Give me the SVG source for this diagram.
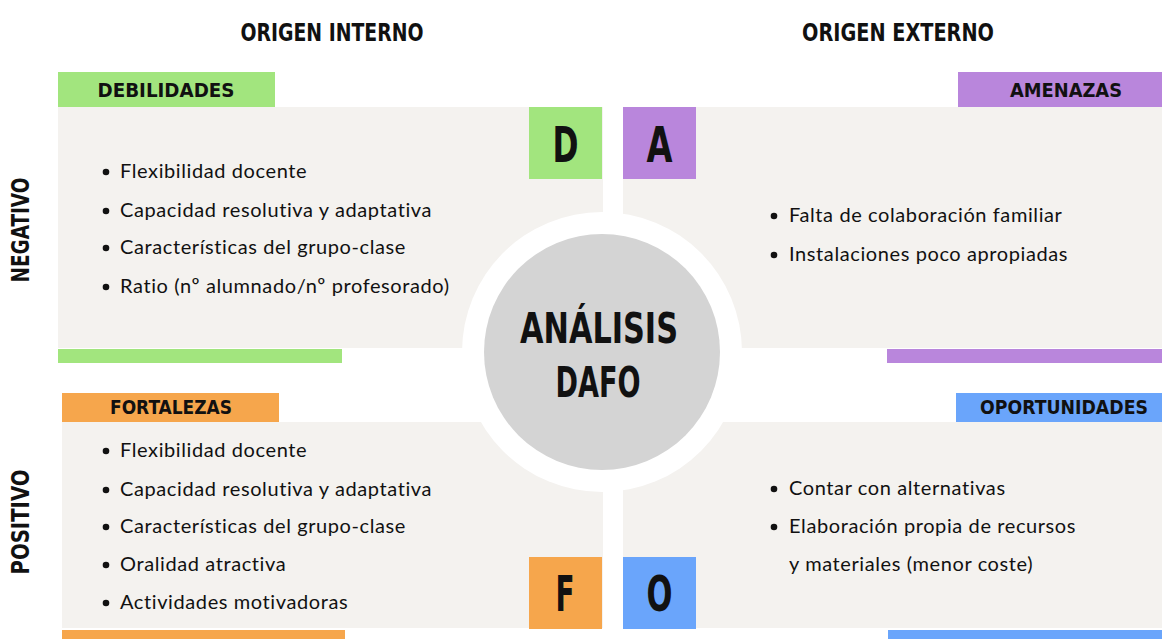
<svg xmlns="http://www.w3.org/2000/svg" width="1162" height="639" viewBox="0 0 1162 639">
<style>
.bg{fill:#f4f2ef}
.g{fill:#a2e57e}.p{fill:#b986dc}.o{fill:#f6a64c}.b{fill:#6aa5fb}
.h1{font-family:"DejaVu Sans Condensed","DejaVu Sans",sans-serif;font-weight:bold;font-size:24px;fill:#111;text-anchor:middle}
.h2{font-family:"DejaVu Sans Condensed","DejaVu Sans",sans-serif;font-weight:bold;font-size:20px;fill:#111;text-anchor:middle}
.big{font-family:"DejaVu Sans Condensed","DejaVu Sans",sans-serif;font-weight:bold;font-size:50px;fill:#111;text-anchor:middle}
.t{font-family:Lato,"Liberation Sans",sans-serif;font-size:20px;letter-spacing:0.6px;fill:#111}
.dot{fill:#111}
</style>
<rect width="1162" height="639" fill="#ffffff"/>
<g id="titles">
<text class="h1" x="332" y="41" textLength="183" lengthAdjust="spacingAndGlyphs">ORIGEN INTERNO</text>
<text class="h1" x="898" y="41" textLength="192" lengthAdjust="spacingAndGlyphs">ORIGEN EXTERNO</text>
<text class="h1" transform="translate(29,230) rotate(-90)" textLength="105" lengthAdjust="spacingAndGlyphs">NEGATIVO</text>
<text class="h1" transform="translate(29,522) rotate(-90)" textLength="105" lengthAdjust="spacingAndGlyphs">POSITIVO</text>
</g>
<g id="debilidades">
<rect class="bg" x="58" y="107" width="545" height="241"/>
<rect class="g" x="58" y="72" width="217" height="35"/>
<text class="h2" x="166" y="97" textLength="137" lengthAdjust="spacingAndGlyphs">DEBILIDADES</text>
<rect class="g" x="58" y="349" width="284" height="14"/>
<rect class="g" x="529" y="107" width="73" height="72"/>
<text class="big" x="565.5" y="162" textLength="26" lengthAdjust="spacingAndGlyphs">D</text>
<circle class="dot" cx="106" cy="172" r="3.3"/>
<text class="t" x="120" y="178">Flexibilidad docente</text>
<circle class="dot" cx="106" cy="211" r="3.3"/>
<text class="t" x="120" y="217">Capacidad resolutiva y adaptativa</text>
<circle class="dot" cx="106" cy="248" r="3.3"/>
<text class="t" x="120" y="254">Características del grupo-clase</text>
<circle class="dot" cx="106" cy="287" r="3.3"/>
<text class="t" x="120" y="293">Ratio (nº alumnado/nº profesorado)</text>
</g>
<g id="amenazas">
<rect class="bg" x="623" y="107" width="539" height="241"/>
<rect class="p" x="958" y="72" width="204" height="35"/>
<text class="h2" x="1066" y="97" textLength="112" lengthAdjust="spacingAndGlyphs">AMENAZAS</text>
<rect class="p" x="887" y="349" width="275" height="14"/>
<rect class="p" x="623" y="107" width="73" height="72"/>
<text class="big" x="659.5" y="162" textLength="26" lengthAdjust="spacingAndGlyphs">A</text>
<circle class="dot" cx="774" cy="216" r="3.3"/>
<text class="t" x="789" y="222">Falta de colaboración familiar</text>
<circle class="dot" cx="774" cy="255" r="3.3"/>
<text class="t" x="789" y="261">Instalaciones poco apropiadas</text>
</g>
<g id="fortalezas">
<rect class="bg" x="62" y="422" width="541" height="206"/>
<rect class="o" x="62" y="393" width="217" height="29"/>
<text class="h2" x="171" y="414" textLength="122" lengthAdjust="spacingAndGlyphs">FORTALEZAS</text>
<rect class="o" x="62" y="630" width="283" height="9"/>
<rect class="o" x="529" y="557" width="73" height="72"/>
<text class="big" x="565" y="611" textLength="19" lengthAdjust="spacingAndGlyphs">F</text>
<circle class="dot" cx="106" cy="451" r="3.3"/>
<text class="t" x="120" y="457">Flexibilidad docente</text>
<circle class="dot" cx="106" cy="490" r="3.3"/>
<text class="t" x="120" y="496">Capacidad resolutiva y adaptativa</text>
<circle class="dot" cx="106" cy="527" r="3.3"/>
<text class="t" x="120" y="533">Características del grupo-clase</text>
<circle class="dot" cx="106" cy="565" r="3.3"/>
<text class="t" x="120" y="571">Oralidad atractiva</text>
<circle class="dot" cx="106" cy="603" r="3.3"/>
<text class="t" x="120" y="609">Actividades motivadoras</text>
</g>
<g id="oportunidades">
<rect class="bg" x="623" y="422" width="539" height="206"/>
<rect class="b" x="956" y="393" width="206" height="29"/>
<text class="h2" x="1064" y="414" textLength="168" lengthAdjust="spacingAndGlyphs">OPORTUNIDADES</text>
<rect class="b" x="888" y="630" width="274" height="9"/>
<rect class="b" x="623" y="557" width="73" height="72"/>
<text class="big" x="659.5" y="611" textLength="26" lengthAdjust="spacingAndGlyphs">O</text>
<circle class="dot" cx="774" cy="489" r="3.3"/>
<text class="t" x="789" y="495">Contar con alternativas</text>
<circle class="dot" cx="774" cy="527" r="3.3"/>
<text class="t" x="789" y="533">Elaboración propia de recursos</text>
<text class="t" x="789" y="571">y materiales (menor coste)</text>
</g>
<g id="centro">
<circle cx="602" cy="352" r="140" fill="#ffffff"/>
<circle cx="602" cy="352" r="118" fill="#d4d4d4"/>
<text class="big" x="599" y="343" style="font-size:42px" textLength="158" lengthAdjust="spacingAndGlyphs">ANÁLISIS</text>
<text class="big" x="598" y="397" style="font-size:42px" textLength="85" lengthAdjust="spacingAndGlyphs">DAFO</text>
</g>
<g id="connectors"/>
</svg>
